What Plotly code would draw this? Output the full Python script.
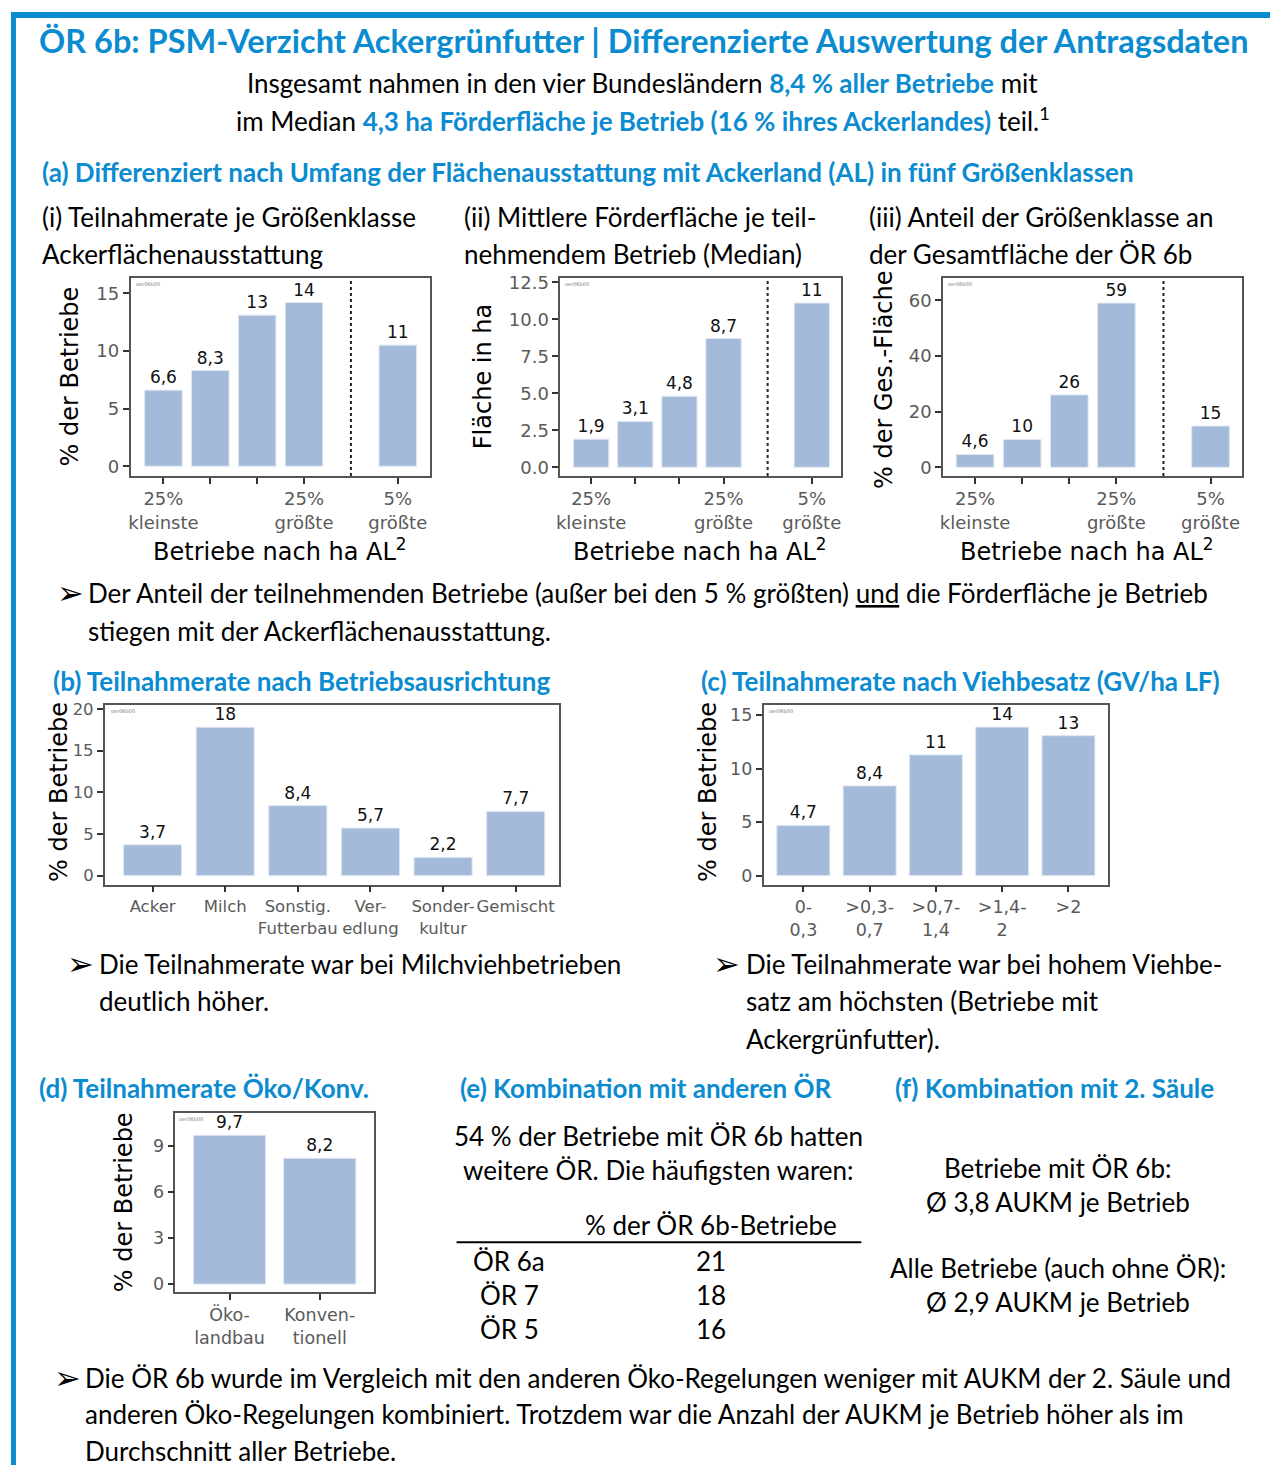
import plotly.graph_objects as go

W, H = 1270, 1467
BLUE = "#0b8bd0"
BAR = "#a4badb"
BODY_FONT = "Lato"
CHART_FONT = "DejaVu Sans"

# (a) Größenklassen nach Ackerland
size_x = [0, 1, 2, 3, 5]
size_ticks = ["25%<br>kleinste", "", "", "25%<br>größte", "5%<br>größte"]
rate_vals = [6.6, 8.3, 13.1, 14.2, 10.5]
rate_labels = ["6,6", "8,3", "13", "14", "11"]
area_vals = [1.9, 3.1, 4.8, 8.7, 11.1]
area_labels = ["1,9", "3,1", "4,8", "8,7", "11"]
share_vals = [4.6, 10, 26, 59, 14.8]
share_labels = ["4,6", "10", "26", "59", "15"]

# (b) Betriebsausrichtung
type_cats = ["Acker", "Milch", "Sonstig.<br>Futterbau", "Ver-<br>edlung", "Sonder-<br>kultur", "Gemischt"]
type_vals = [3.7, 17.8, 8.4, 5.7, 2.2, 7.7]
type_labels = ["3,7", "18", "8,4", "5,7", "2,2", "7,7"]

# (c) Viehbesatz
stock_cats = ["0-<br>0,3", ">0,3-<br>0,7", ">0,7-<br>1,4", ">1,4-<br>2", ">2"]
stock_vals = [4.7, 8.4, 11.3, 13.9, 13.1]
stock_labels = ["4,7", "8,4", "11", "14", "13"]

# (d) Öko / konventionell
eco_cats = ["Öko-<br>landbau", "Konven-<br>tionell"]
eco_vals = [9.7, 8.2]
eco_labels = ["9,7", "8,2"]

# (e) Kombination mit anderen ÖR
combo_names = ["ÖR 6a", "ÖR 7", "ÖR 5"]
combo_vals = [21, 18, 16]


def px(x):
    return x / W


def py(y):
    return 1 - y / H


fig = go.Figure()

panels = [
    # axis id, x, vals, labels, xdomain px, ydomain px, xrange, yrange, tickvals, ticktext, yticks, tick size
    ("", size_x, rate_vals, rate_labels, (127, 427), (273, 472), [-0.7, 5.68], [-0.86, 16.3],
     size_x, size_ticks, dict(tickvals=[0, 5, 10, 15]), 18),
    ("2", size_x, area_vals, area_labels, (558, 840), (273, 472), [-0.7, 5.67], [-0.6, 12.77],
     size_x, size_ticks, dict(tickvals=[0, 2.5, 5, 7.5, 10, 12.5], tickformat=".1f"), 18),
    ("3", size_x, share_vals, share_labels, (942, 1242), (273, 472), [-0.68, 5.67], [-3.2, 67.9],
     size_x, size_ticks, dict(tickvals=[0, 20, 40, 60]), 18),
    ("4", list(range(len(type_vals))), type_vals, type_labels, (101, 557), (702, 883), [-0.66, 5.6],
     [-1.07, 20.5], list(range(len(type_vals))), type_cats, dict(tickvals=[0, 5, 10, 15, 20]), 16.5),
    ("5", list(range(len(stock_vals))), stock_vals, stock_labels, (762, 1107), (702, 883), [-0.6, 4.59],
     [-0.84, 16.0], list(range(len(stock_vals))), stock_cats, dict(tickvals=[0, 5, 10, 15]), 17.5),
    ("6", list(range(len(eco_vals))), eco_vals, eco_labels, (172, 371), (1113, 1293), [-0.6, 1.6],
     [-0.52, 11.14], list(range(len(eco_vals))), eco_cats, dict(tickvals=[0, 3, 6, 9]), 17.5),
]

axis_common = dict(
    showgrid=False, zeroline=False, showline=True, mirror=True,
    linecolor="#555555", linewidth=1.5, ticks="outside", ticklen=6, tickwidth=2,
    tickcolor="#333333", fixedrange=True,
)

for aid, xs, vals, labels, xd, yd, xr, yr, tv, tt, yt, tsize in panels:
    tfont = dict(family=CHART_FONT, size=tsize, color="#5a5a5a")
    fig.add_trace(go.Bar(
        x=xs, y=vals, text=labels, textposition="outside", width=0.8,
        marker=dict(color=BAR, line=dict(color="#dfe6f1", width=1)),
        textfont=dict(family=CHART_FONT, size=17, color="#111111"),
        cliponaxis=False, showlegend=False, hoverinfo="skip",
        xaxis="x" + aid, yaxis="y" + aid,
    ))
    fig.update_layout(**{
        "xaxis" + aid: dict(axis_common, domain=[px(xd[0]), px(xd[1])], range=xr, tickfont=tfont,
                            tickvals=tv, ticktext=tt, tickangle=0, anchor="y" + aid),
        "yaxis" + aid: dict(axis_common, domain=[py(yd[1]), py(yd[0])], range=yr, tickfont=tfont,
                            anchor="x" + aid, **yt),
    })
    # tiny figure id in the corner
    fig.add_annotation(x=0.01, y=0.995, xref="x" + aid + " domain", yref="y" + aid + " domain",
                       text="oer06b00", showarrow=False, xanchor="left", yanchor="top",
                       font=dict(family=CHART_FONT, size=5, color="#777777"))

# dotted separators in (a)
for aid in ["", "2", "3"]:
    fig.add_shape(type="line", x0=4, x1=4, y0=0, y1=1, xref="x" + aid, yref="y" + aid + " domain",
                  line=dict(color="#222222", width=2, dash="dot"))

shapes = [
    dict(type="rect", x0=px(7), x1=1, y0=py(5), y1=py(11), fillcolor=BLUE, line_width=0),
    dict(type="rect", x0=px(7), x1=px(12), y0=0, y1=py(5), fillcolor=BLUE, line_width=0),
    dict(type="line", x0=px(454), x1=px(860), y0=py(1243), y1=py(1243), line=dict(color="black", width=2)),
]
for s in shapes:
    fig.add_shape(xref="paper", yref="paper", **s)


def txt(x, y, text, size=26, color="black", anchor="left", bold=False, font=BODY_FONT, angle=0):
    if bold:
        text = "<b>" + text + "</b>"
    fig.add_annotation(x=px(x), y=py(y), xref="paper", yref="paper", text=text, showarrow=False,
                       xanchor=anchor, yanchor="middle", textangle=angle,
                       font=dict(family=font, size=size, color=color))


def hl(s):
    return "<span style='color:%s'><b>%s</b></span>" % (BLUE, s)


def arrow(x, y):
    txt(x, y, "➢", size=32, font=CHART_FONT)


# header
txt(642, 34, "ÖR 6b: PSM-Verzicht Ackergrünfutter | Differenzierte Auswertung der Antragsdaten",
    size=32.5, color=BLUE, anchor="center", bold=True)
txt(641, 76, "Insgesamt nahmen in den vier Bundesländern " + hl("8,4 % aller Betriebe") + " mit",
    anchor="center")
txt(641, 113, "im Median " + hl("4,3 ha Förderfläche je Betrieb (16 % ihres Ackerlandes)") + " teil.<sup>1</sup>",
    anchor="center")

# section (a)
txt(36, 166, "(a) Differenziert nach Umfang der Flächenausstattung mit Ackerland (AL) in fünf Größenklassen",
    color=BLUE, bold=True)
txt(36, 211, "(i) Teilnahmerate je Größenklasse")
txt(36, 249, "Ackerflächenausstattung")
txt(459, 211, "(ii) Mittlere Förderfläche je teil-")
txt(459, 249, "nehmendem Betrieb (Median)")
txt(866, 211, "(iii) Anteil der Größenklasse an")
txt(866, 249, "der Gesamtfläche der ÖR 6b")

# axis titles
txt(66, 372, "% der Betriebe", size=24, font=CHART_FONT, anchor="center", angle=-90)
txt(480, 372, "Fläche in ha", size=24, font=CHART_FONT, anchor="center", angle=-90)
txt(882, 375, "% der Ges.-Fläche", size=24, font=CHART_FONT, anchor="center", angle=-90)
for cx in [277, 698, 1086]:
    txt(cx, 546, "Betriebe nach ha AL<sup>2</sup>", size=24, font=CHART_FONT, anchor="center")
txt(55, 790, "% der Betriebe", size=24, font=CHART_FONT, anchor="center", angle=-90)
txt(706, 790, "% der Betriebe", size=24, font=CHART_FONT, anchor="center", angle=-90)
txt(120, 1203, "% der Betriebe", size=24, font=CHART_FONT, anchor="center", angle=-90)

arrow(51, 590)
txt(82, 590, "Der Anteil der teilnehmenden Betriebe (außer bei den 5 % größten) "
    "<span style='text-decoration:underline'>und</span> die Förderfläche je Betrieb")
txt(82, 628, "stiegen mit der Ackerflächenausstattung.")

# sections (b), (c)
txt(47, 678, "(b) Teilnahmerate nach Betriebsausrichtung", color=BLUE, bold=True)
txt(697, 678, "(c) Teilnahmerate nach Viehbesatz (GV/ha LF)", color=BLUE, bold=True)
arrow(61, 963)
txt(93, 963, "Die Teilnahmerate war bei Milchviehbetrieben")
txt(93, 1000, "deutlich höher.")
arrow(709, 963)
txt(742, 963, "Die Teilnahmerate war bei hohem Viehbe-")
txt(742, 1000, "satz am höchsten (Betriebe mit")
txt(742, 1038, "Ackergrünfutter).")

# sections (d), (e), (f)
txt(33, 1088, "(d) Teilnahmerate Öko/Konv.", color=BLUE, bold=True)
txt(455, 1088, "(e) Kombination mit anderen ÖR", color=BLUE, bold=True)
txt(892, 1088, "(f) Kombination mit 2. Säule", color=BLUE, bold=True)

txt(657, 1136, "54 % der Betriebe mit ÖR 6b hatten", anchor="center")
txt(657, 1170, "weitere ÖR. Die häufigsten waren:", anchor="center")
txt(709, 1226, "% der ÖR 6b-Betriebe", anchor="center")
for i, (name, val) in enumerate(zip(combo_names, combo_vals)):
    ry = 1262 + 34 * i
    txt(507, ry, name, anchor="center")
    txt(709, ry, str(val), anchor="center")

txt(1057, 1168, "Betriebe mit ÖR 6b:", anchor="center")
txt(1057, 1202, "Ø 3,8 AUKM je Betrieb", anchor="center")
txt(1057, 1269, "Alle Betriebe (auch ohne ÖR):", anchor="center")
txt(1057, 1303, "Ø 2,9 AUKM je Betrieb", anchor="center")

arrow(48, 1379)
txt(79, 1379, "Die ÖR 6b wurde im Vergleich mit den anderen Öko-Regelungen weniger mit AUKM der 2. Säule und")
txt(79, 1416, "anderen Öko-Regelungen kombiniert. Trotzdem war die Anzahl der AUKM je Betrieb höher als im")
txt(79, 1453, "Durchschnitt aller Betriebe.")

fig.update_layout(
    width=W, height=H, margin=dict(l=0, r=0, t=0, b=0),
    paper_bgcolor="white", plot_bgcolor="white",
    font=dict(family=BODY_FONT), showlegend=False,
)

# page body margin would shift the figure, so drop it
fig.write_html("out.html", config={"displayModeBar": False},
               post_script="document.body.style.margin='0';document.body.style.overflow='hidden';")
